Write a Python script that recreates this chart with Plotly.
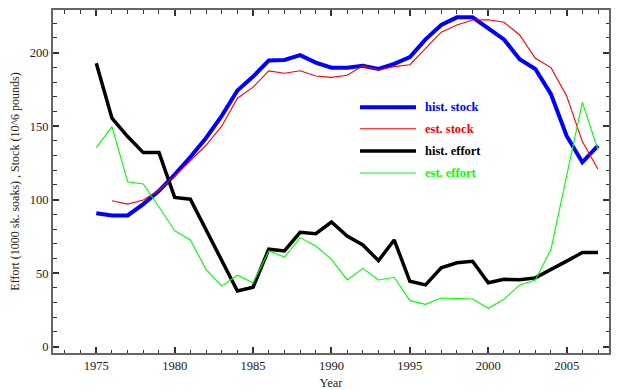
import plotly.graph_objects as go

# Blue king crab style stock/effort series, 1975-2007
years = list(range(1975, 2008))

hist_stock = [90.7, 89.3, 89.3, 97, 106, 117, 129, 142, 157, 174.2,
              183.7, 194.6, 195, 198.3, 193.2, 189.8, 189.8, 191, 188.9, 192.3,
              196.9, 209, 218.8, 224, 224, 216.6, 209, 195.5, 188.9, 171.7,
              143.3, 125.4, 136.7]

est_stock = [None, 99.3, 97, 99.8, 106.5, 116, 126.5, 137, 150, 169,
             176.5, 187.6, 186, 187.7, 184.1, 183.2, 184.6, 191, 188.2, 190.5,
             191.8, 203, 213.9, 218.8, 222.2, 222.4, 220.7, 212, 196.2, 189.8,
             170.5, 139.5, 120.7]

hist_effort = [192.8, 155.4, 142.9, 132, 132, 101.5, 100.3, 79.6, 58.7, 37.9,
               40.4, 66.3, 65.1, 77.8, 76.9, 84.8, 75.3, 69.2, 58.5, 72.6,
               44.5, 42, 53.7, 57.1, 58.1, 43.5, 45.8, 45.6, 46.8, 52.2,
               58.2, 64, 64]

est_effort = [135.4, 149.7, 112.2, 110.7, 95, 78.9, 72.6, 52.6, 41.2, 48.6,
              43.5, 65.1, 61, 74.2, 68.5, 59.4, 45.4, 53.3, 45.4, 47.2,
              31.3, 28.8, 33.1, 33, 32.4, 26.1, 32.2, 42, 45.4, 66.3,
              116, 166.2, 133.8]

series_names = ["hist. stock", "est. stock", "hist. effort", "est. effort"]
series_colors = ["#0000ff", "#ff0000", "#000000", "#00ff00"]
series_widths = [4, 1.1, 3.5, 1.1]
series_values = [hist_stock, est_stock, hist_effort, est_effort]

FONT = "Liberation Serif"

fig = go.Figure()
draw_order = [0, 2, 1, 3]
for i in draw_order:
    fig.add_trace(go.Scatter(
        x=years, y=series_values[i], mode="lines", name=series_names[i],
        line=dict(color=series_colors[i], width=series_widths[i]),
        connectgaps=False, showlegend=False,
    ))

# Hand-drawn legend block: line sample + coloured bold label
legend_rows_px = [107.3, 128.7, 151, 173]
plot_left, plot_right, plot_top, plot_bottom = 53, 609, 10, 353
pw = plot_right - plot_left
ph = plot_bottom - plot_top
for i, ypx in enumerate(legend_rows_px):
    yp = (plot_bottom - ypx) / ph
    fig.add_shape(type="line", xref="paper", yref="paper",
                  x0=(360 - plot_left) / pw, x1=(416 - plot_left) / pw,
                  y0=yp, y1=yp,
                  line=dict(color=series_colors[i], width=series_widths[i]))
    fig.add_annotation(xref="paper", yref="paper",
                       x=(423 - plot_left) / pw, y=yp,
                       xanchor="left", yanchor="middle", showarrow=False,
                       text="<b>" + series_names[i] + "</b>",
                       font=dict(family=FONT, size=12.5, color=series_colors[i]))

axis_common = dict(
    showgrid=False, zeroline=False, automargin=False,
    showline=True, linecolor="#666666", linewidth=2, mirror="ticks",
    ticks="inside", ticklen=6, tickwidth=1.5, tickcolor="#333333",
    tickfont=dict(family=FONT, size=12.5, color="#222222"),
)

fig.update_xaxes(
    range=[1972.24, 2007.7], tickmode="linear", tick0=1975, dtick=5,
    minor=dict(ticks="inside", dtick=1, tick0=1975, ticklen=3.5,
               tickwidth=1.2, tickcolor="#333333"),
    title=dict(text="Year", font=dict(family=FONT, size=12.5, color="#222222"),
               standoff=6),
    **axis_common,
)
fig.update_yaxes(
    range=[-4.3, 229], tickmode="linear", tick0=0, dtick=50,
    minor=dict(ticks="inside", dtick=10, tick0=0, ticklen=3.5,
               tickwidth=1.2, tickcolor="#333333"),
    title=dict(text="Effort (1000 sk. soaks) , Stock (10^6 pounds)",
               font=dict(family=FONT, size=12, color="#222222"), standoff=8),
    **axis_common,
)

fig.update_layout(
    width=619, height=390,
    margin=dict(l=plot_left, r=619 - plot_right, t=plot_top, b=390 - plot_bottom),
    paper_bgcolor="white", plot_bgcolor="white",
    showlegend=False,
)

fig.write_html("out.html")
